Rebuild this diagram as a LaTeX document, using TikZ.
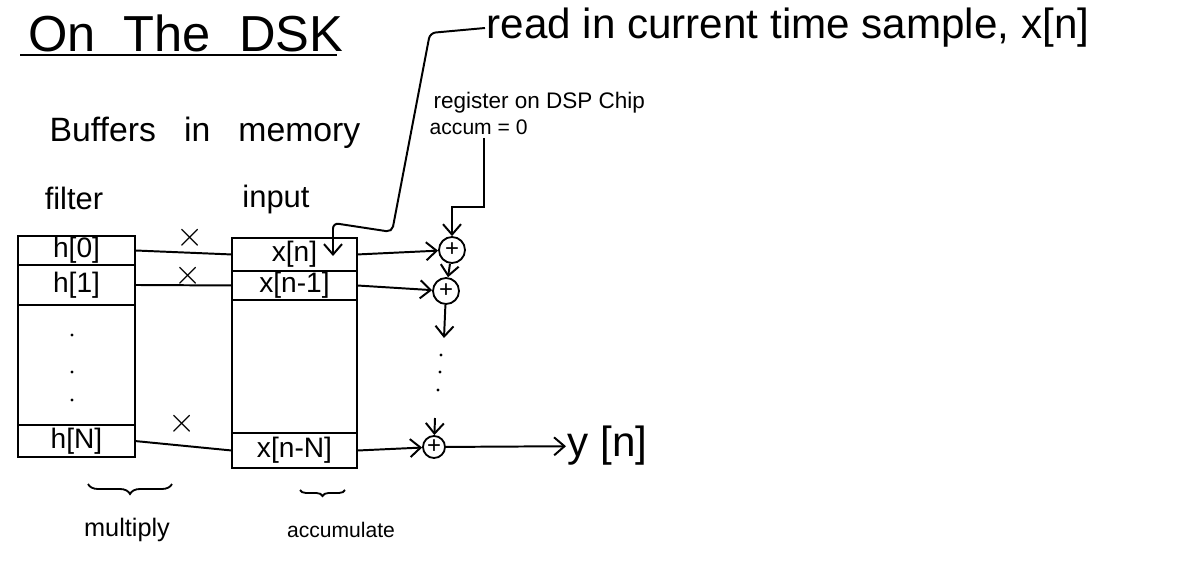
\documentclass[tikz,border=0pt]{standalone}
\usepackage{fontspec}
\setmainfont{Liberation Sans}
\usetikzlibrary{arrows.meta,decorations.pathreplacing}

\begin{document}
\begin{tikzpicture}[x=0.025cm,y=-0.025cm,
  buf/.style={draw,line width=1.4pt,inner sep=0pt,outer sep=0pt},
  cell/.style={draw,line width=1.4pt,inner sep=0pt,outer sep=0pt,font=\fontsize{20}{20}\selectfont},
  adder/.style={circle,draw,line width=1.3pt,minimum size=6.5mm,inner sep=0pt,font=\fontsize{17}{17}\selectfont},
  wire/.style={line width=1.4pt},
  feed/.style={line width=1.4pt,-{Straight Barb[length=2.6mm,width=4.5mm]}},
  hand/.style={inner sep=1pt,font=\fontsize{24}{24}\selectfont},
  note/.style={inner sep=1pt,font=\fontsize{16}{16}\selectfont},
  brace/.style={line width=1.3pt,decorate,decoration={brace,mirror,amplitude=#1}}]
\useasboundingbox (0,0) rectangle (1184,571);

% title
\node[inner sep=0pt,anchor=south west,font=\fontsize{36}{36}\selectfont] (title) at (28,52) {On \ The \ DSK};
\draw[wire] (20,55) -- (337,55);
\node[hand,anchor=south west] (bufs) at (48,150) {Buffers \ \ in \ \ memory};

% buffers in memory
\node[note,font=\fontsize{22}{22}\selectfont] (flabel) at (74,198) {filter};
\node[note,font=\fontsize{22}{22}\selectfont] (ilabel) at (276,200) {input};
\node[buf,minimum width=2.925cm,minimum height=5.525cm] (fbuf) at (76.5,346.5) {};
\node[cell,minimum width=2.925cm,minimum height=0.725cm,anchor=north] (h0) at (fbuf.north) {h[0]};
\node[cell,minimum width=2.925cm,minimum height=1cm,anchor=north] (h1) at (h0.south) {h[1]};
\node[cell,minimum width=2.925cm,minimum height=0.8cm,anchor=south] (hN) at (fbuf.south) {h[N]};
\fill (72,335) circle (1.6);
\fill (72,372) circle (1.6);
\fill (72,400) circle (1.6);

\node[buf,minimum width=3.125cm,minimum height=5.75cm] (ibuf) at (294.5,353) {};
\node[cell,minimum width=3.125cm,minimum height=0.825cm,anchor=north] (x0) at (ibuf.north) {x[n]\hspace{8mm}};
\node[cell,minimum width=3.125cm,minimum height=0.725cm,anchor=north] (x1) at (x0.south) {x[n-1]};
\node[cell,minimum width=3.125cm,minimum height=0.875cm,anchor=south] (xN) at (ibuf.south) {x[n-N]};

% multiply
\draw[wire] (h0.east) -- (x0.west);
\draw[wire] (h1.east) -- (x1.west);
\draw[wire] (hN.east) -- (xN.west);
\node[hand] (m0) at (190,238) {$\times$};
\node[hand] (m1) at (188,276) {$\times$};
\node[hand] (mN) at (182,424) {$\times$};

% accumulate
\node[adder] (add1) at (452,250) {+};
\node[adder] (add2) at (446,291) {+};
\node[adder,minimum size=5.5mm] (add3) at (434,447) {+};
\coordinate (d0) at (444,338);
\coordinate (d1) at (435,418);
\fill (441,355) circle (1.6);
\fill (440,372) circle (1.6);
\fill (438,390) circle (1.6);
\draw[feed] (x0.east) -- (add1);
\draw[feed] (x1.east) -- (add2);
\draw[feed] (xN.east) -- (add3);
\draw[feed] (add1) -- (add2);
\draw[feed] (add2) -- (d0);
\draw[feed] (d1) -- (add3);
\node[hand,anchor=west,font=\fontsize{30}{30}\selectfont] (yn) at (566,446) {y [n]};
\draw[feed] (add3) -- (yn);

% register on the chip
\node[note,anchor=west] (reg) at (432,103) {register on DSP Chip};
\node[note,anchor=west,font=\fontsize{15}{15}\selectfont] (accum) at (428,127) {accum = 0};
\coordinate (a0) at (484,138);
\coordinate (a1) at (484,207);
\draw[feed] (a0) -- (a1) -| (add1);

% read in sample
\node[hand,anchor=west,font=\fontsize{30}{30}\selectfont] (readin) at (485,28) {read in current time sample, x[n]};
\coordinate (r1) at (430,33);
\coordinate (r2) at (392,232);
\coordinate (r3) at (333,223);
\coordinate (r4) at (333,256);
\draw[feed,rounded corners=4pt] (readin.west) -- (r1) -- (r2) -- (r3) -- (r4);

% labels below
\draw[brace=2.5mm] (88,484) -- (172,484);
\node[note,font=\fontsize{18}{18}\selectfont] (mul) at (127,530) {multiply};
\draw[brace=1.5mm] (300,490) -- (345,490);
\node[note,font=\fontsize{15}{15}\selectfont] (acc) at (341,530) {accumulate};
\end{tikzpicture}
\end{document}
